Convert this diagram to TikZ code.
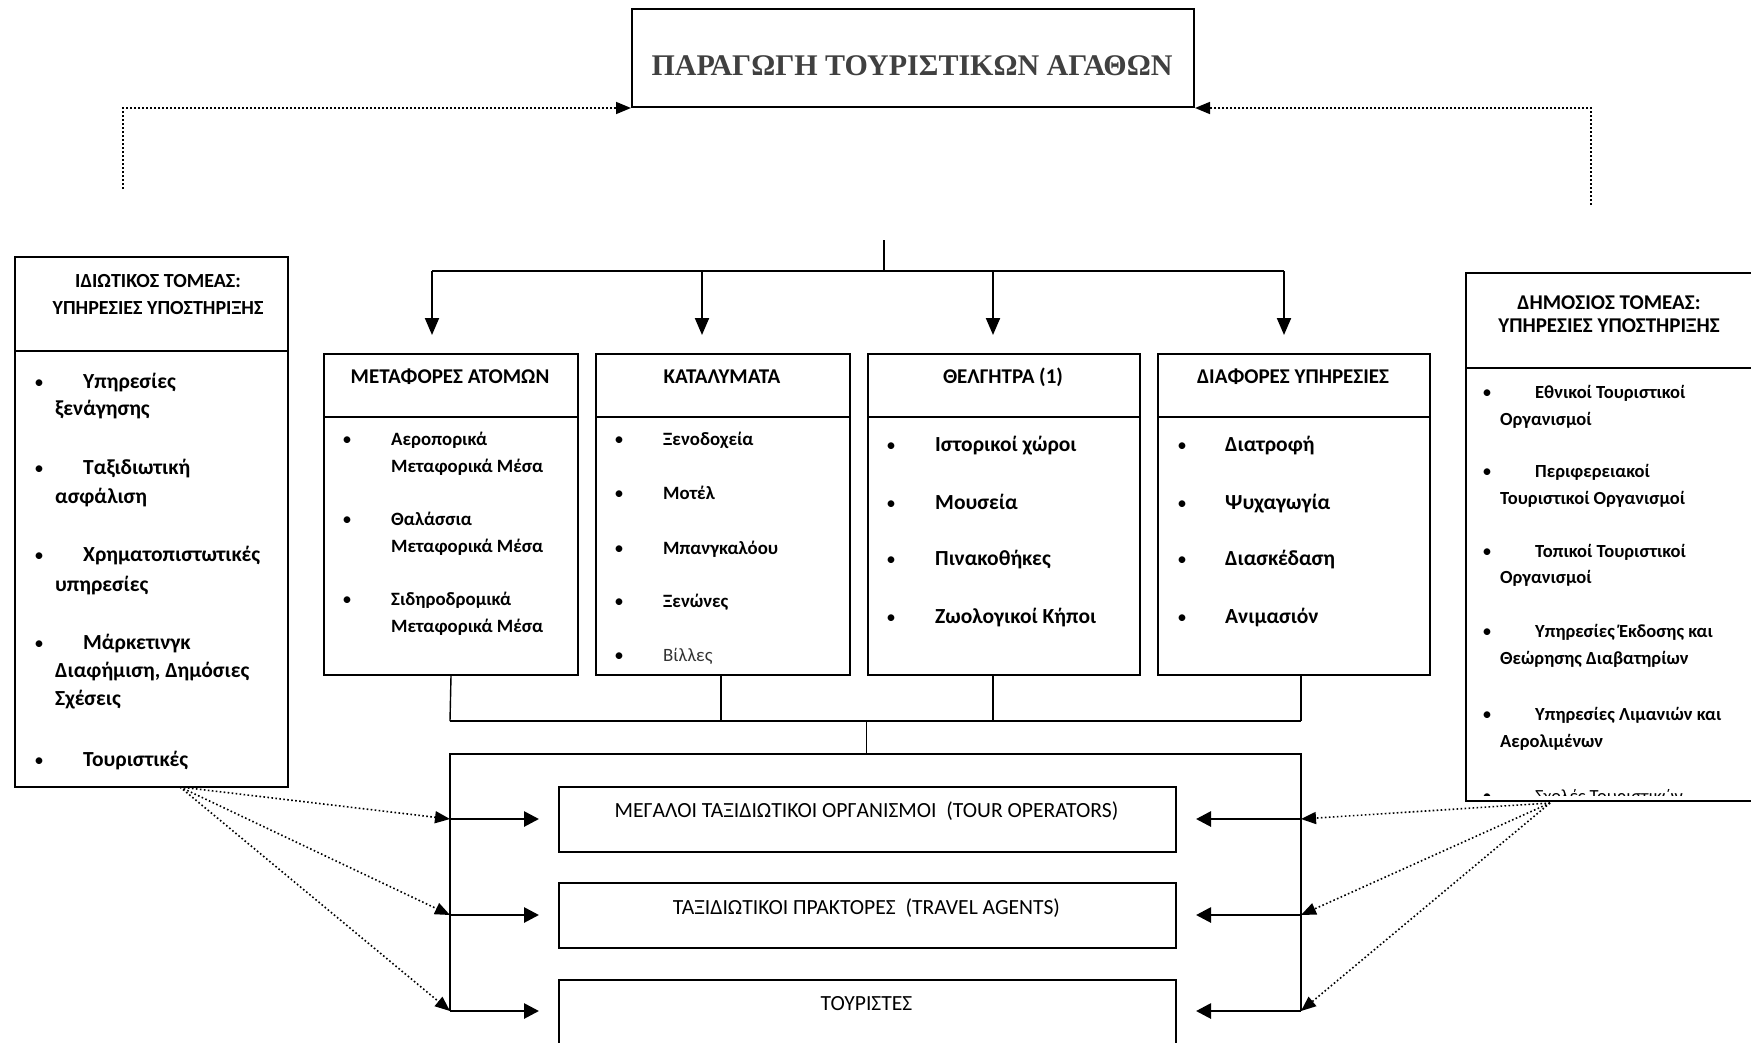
\documentclass[tikz,border=0pt]{standalone}
\usepackage{fontspec}
\setmainfont{Carlito}
\newfontfamily\titlefont{Liberation Serif}
\usetikzlibrary{arrows.meta}
\begin{document}
\begin{tikzpicture}[x=1pt,y=-1pt,
 box/.style={draw=black, line width=2pt, rectangle, inner sep=0pt, anchor=north west},
 hdr/.style={inner sep=0pt, font=\bfseries\fontsize{21}{25}\selectfont},
 lhdr/.style={inner sep=0pt, font=\bfseries\fontsize{20}{24}\selectfont},
 rhdr/.style={inner sep=0pt, font=\bfseries\fontsize{21}{25}\selectfont},
 itA/.style={inner sep=0pt, anchor=base west, font=\bfseries\fontsize{18.8}{22}\selectfont},
 itB/.style={inner sep=0pt, anchor=base west, font=\bfseries\fontsize{21.5}{25}\selectfont},
 itL/.style={inner sep=0pt, anchor=base west, font=\bfseries\fontsize{21.5}{25}\selectfont},
 itR/.style={inner sep=0pt, anchor=base west, font=\bfseries\fontsize{18.5}{22}\selectfont},
 blt/.style={inner sep=0pt, anchor=base, font=\fontsize{19}{22}\selectfont},
 low/.style={inner sep=0pt, font=\fontsize{21.6}{25}\selectfont},
 divl/.style={line width=2pt},
 tree/.style={line width=2pt},
 thin/.style={line width=1.4pt},
 arr/.style={line width=2pt, -{Triangle[length=17pt,width=14pt]}},
 harr/.style={line width=2.8pt, -{Triangle[length=15pt,width=15pt]}},
 dotline/.style={line width=1.6pt, dash pattern=on 1.6pt off 2.4pt},
 dotarr/.style={dotline, -{Triangle[length=15pt,width=12pt]}}
]
\useasboundingbox (0,0) rectangle (1751,1042);
\clip (0,0) rectangle (1751,1042);
\fill[white] (0,0) rectangle (1751,1042);

% title
\node[box, minimum width=562pt, minimum height=98pt] (top) at (631,8) {};
\node[inner sep=0pt, font=\titlefont\bfseries\fontsize{30}{34}\selectfont, text=black!75] (ttl) at (912,66) {ΠΑΡΑΓΩΓΗ ΤΟΥΡΙΣΤΙΚΩΝ ΑΓΑΘΩΝ};

% dotted links to title
\coordinate (lp) at (123,189);
\coordinate (rp) at (1591,205);
\draw[dotarr] (lp) |- (top.south west);
\draw[dotarr] (rp) |- (top.south east);

% main boxes
\node[box, minimum width=254pt, minimum height=321pt] (b1) at (323,353) {};
\node[box, minimum width=254pt, minimum height=321pt] (b2) at (595,353) {};
\node[box, minimum width=272pt, minimum height=321pt] (b3) at (867,353) {};
\node[box, minimum width=272pt, minimum height=321pt] (b4) at (1157,353) {};
\foreach \b in {b1,b2,b3,b4} \draw[divl] (\b.west |- 0,417) -- (\b.east |- 0,417);

\node[hdr] (h1) at (450,377) {ΜΕΤΑΦΟΡΕΣ ΑΤΟΜΩΝ};
\node[hdr] (h2) at (722,377) {ΚΑΤΑΛΥΜΑΤΑ};
\node[hdr] (h3) at (1003,377) {ΘΕΛΓΗΤΡΑ (1)};
\node[hdr] (h4) at (1293,377) {ΔΙΑΦΟΡΕΣ ΥΠΗΡΕΣΙΕΣ};

% b1 items
\foreach \y [count=\i] in {445,525,605} \node[blt] (b1d\i) at (347,\y) {•};
\foreach \t/\y [count=\i] in {Αεροπορικά/445,{Μεταφορικά Μέσα}/472,Θαλάσσια/525,{Μεταφορικά Μέσα}/552,Σιδηροδρομικά/605,{Μεταφορικά Μέσα}/632}
  \node[itA] (b1t\i) at (391,\y) {\t};
% b2 items
\foreach \y [count=\i] in {445,499,554,607,661} \node[blt] (b2d\i) at (619,\y) {•};
\foreach \t/\y [count=\i] in {Ξενοδοχεία/445,Μοτέλ/499,Μπανγκαλόου/554,Ξενώνες/607}
  \node[itA] (b2t\i) at (663,\y) {\t};
\node[itA, font=\mdseries\fontsize{18.8}{22}\selectfont, text=black!80] (b2t5) at (663,661) {Βίλλες};
% b3 items
\foreach \t/\y [count=\i] in {{Ιστορικοί χώροι}/451,Μουσεία/509,Πινακοθήκες/565,{Ζωολογικοί Κήποι}/623}{
  \node[blt] (b3d\i) at (891,\y) {•};
  \node[itB] (b3t\i) at (935,\y) {\t};}
% b4 items
\foreach \t/\y [count=\i] in {Διατροφή/451,Ψυχαγωγία/509,Διασκέδαση/565,Ανιμασιόν/623}{
  \node[blt] (b4d\i) at (1182,\y) {•};
  \node[itB] (b4t\i) at (1225,\y) {\t};}

% private sector box
\node[box, minimum width=273pt, minimum height=530pt] (priv) at (14,256) {};
\draw[divl] (priv.west |- 0,351) -- (priv.east |- 0,351);
\node[lhdr] (ph1) at (158,281) {ΙΔΙΩΤΙΚΟΣ ΤΟΜΕΑΣ:};
\node[lhdr] (ph2) at (158,308) {ΥΠΗΡΕΣΙΕΣ ΥΠΟΣΤΗΡΙΞΗΣ};
\foreach \t/\y [count=\i] in {Υπηρεσίες/388,Ταξιδιωτική/474,Χρηματοπιστωτικές/561,Μάρκετινγκ/649,Τουριστικές/766}{
  \node[blt] (pd\i) at (39,\y) {•};
  \node[itL] (pt\i) at (83,\y) {\t};}
\foreach \t/\y [count=\i] in {ξενάγησης/415,ασφάλιση/503,υπηρεσίες/591,{Διαφήμιση, Δημόσιες}/677,Σχέσεις/705}
  \node[itL] (pc\i) at (55,\y) {\t};

% public sector box
\node[box, minimum width=300pt, minimum height=528pt] (pub) at (1465,272) {};
\draw[divl] (pub.west |- 0,368) -- (pub.east |- 0,368);
\node[rhdr] (uh1) at (1609,303) {ΔΗΜΟΣΙΟΣ ΤΟΜΕΑΣ:};
\node[rhdr] (uh2) at (1609,326) {ΥΠΗΡΕΣΙΕΣ ΥΠΟΣΤΗΡΙΞΗΣ};
\foreach \t/\y [count=\i] in {{Εθνικοί Τουριστικοί}/398,Περιφερειακοί/477,{Τοπικοί Τουριστικοί}/557,{Υπηρεσίες Έκδοσης και}/637,{Υπηρεσίες Λιμανιών και}/720}{
  \node[blt] (ud\i) at (1487,\y) {•};
  \node[itR] (ut\i) at (1535,\y) {\t};}
\foreach \t/\y [count=\i] in {Οργανισμοί/425,{Τουριστικοί Οργανισμοί}/504,Οργανισμοί/583,{Θεώρησης Διαβατηρίων}/664,Αερολιμένων/747}
  \node[itR] (uc\i) at (1500,\y) {\t};
\begin{scope}
  \clip (1467,700) rectangle (1751,795);
  \node[blt] (ud6) at (1487,802) {•};
  \node[itR, font=\mdseries\fontsize{18.5}{22}\selectfont] (ut6) at (1535,802) {Σχολές Τουριστικών};
\end{scope}

% top distribution tree
\coordinate (hub) at (884,240);
\coordinate (hj) at (884,271);
\coordinate (a1) at (432,271);
\coordinate (a2) at (702,271);
\coordinate (a3) at (993,271);
\coordinate (a4) at (1284,271);
\draw[tree] (hub) -- (hj);
\draw[tree] (a1) -- (a4);
\foreach \i in {1,2,3,4} \draw[arr] (a\i) -- ++(0,64);

% bottom collection tree
\coordinate (c1) at (450,721);
\coordinate (c2) at (721,721);
\coordinate (c3) at (993,721);
\coordinate (c4) at (1301,721);
\coordinate (cj) at (866.5,721);
\draw[thin] (b1.south) -- (c1);
\draw[thin] (c2 |- b2.south) -- (c2);
\draw[thin] (c3 |- b3.south) -- (c3);
\draw[thin] (c4 |- b4.south) -- (c4);
\draw[thin] (c1) -- (c4);

% lower boxes
\node[box, minimum width=617pt, minimum height=65pt] (op) at (558,786) {};
\node[box, minimum width=617pt, minimum height=65pt] (ta) at (558,882) {};
\node[box, minimum width=617pt, minimum height=90pt] (tou) at (558,979) {};
\node[low] (opt) at (866.5,811) {ΜΕΓΑΛΟΙ ΤΑΞΙΔΙΩΤΙΚΟΙ ΟΡΓΑΝΙΣΜΟΙ\ \ (TOUR OPERATORS)};
\node[low] (tat) at (866.5,908) {ΤΑΞΙΔΙΩΤΙΚΟΙ ΠΡΑΚΤΟΡΕΣ\ \ (TRAVEL AGENTS)};
\node[low] (tout) at (866.5,1004) {ΤΟΥΡΙΣΤΕΣ};

% bracket
\coordinate (k) at (866.5,754);
\coordinate (L0) at (450,754);
\coordinate (R0) at (1301,754);
\coordinate (L1) at (450,819);
\coordinate (L2) at (450,915);
\coordinate (L3) at (450,1011);
\coordinate (R1) at (1301,819);
\coordinate (R2) at (1301,915);
\coordinate (R3) at (1301,1011);
\draw[thin] (cj) -- (k);
\draw[tree] (L3) -- (L0) -- (R0) -- (R3);
\draw[harr, shorten >=19pt] (L1) -- (L1 -| op.west);
\draw[harr, shorten >=19pt] (L2) -- (L2 -| ta.west);
\draw[harr, shorten >=19pt] (L3) -- (L3 -| tou.west);
\draw[harr, shorten >=19pt] (R1) -- (R1 -| op.east);
\draw[harr, shorten >=19pt] (R2) -- (R2 -| ta.east);
\draw[harr, shorten >=19pt] (R3) -- (R3 -| tou.east);

% dotted fans
\coordinate (po) at (180,787);
\coordinate (uo) at (1550,803);
\foreach \i in {1,2,3} \draw[dotarr] (po) -- (L\i);
\foreach \i in {1,2,3} \draw[dotarr] (uo) -- (R\i);
\end{tikzpicture}
\end{document}
